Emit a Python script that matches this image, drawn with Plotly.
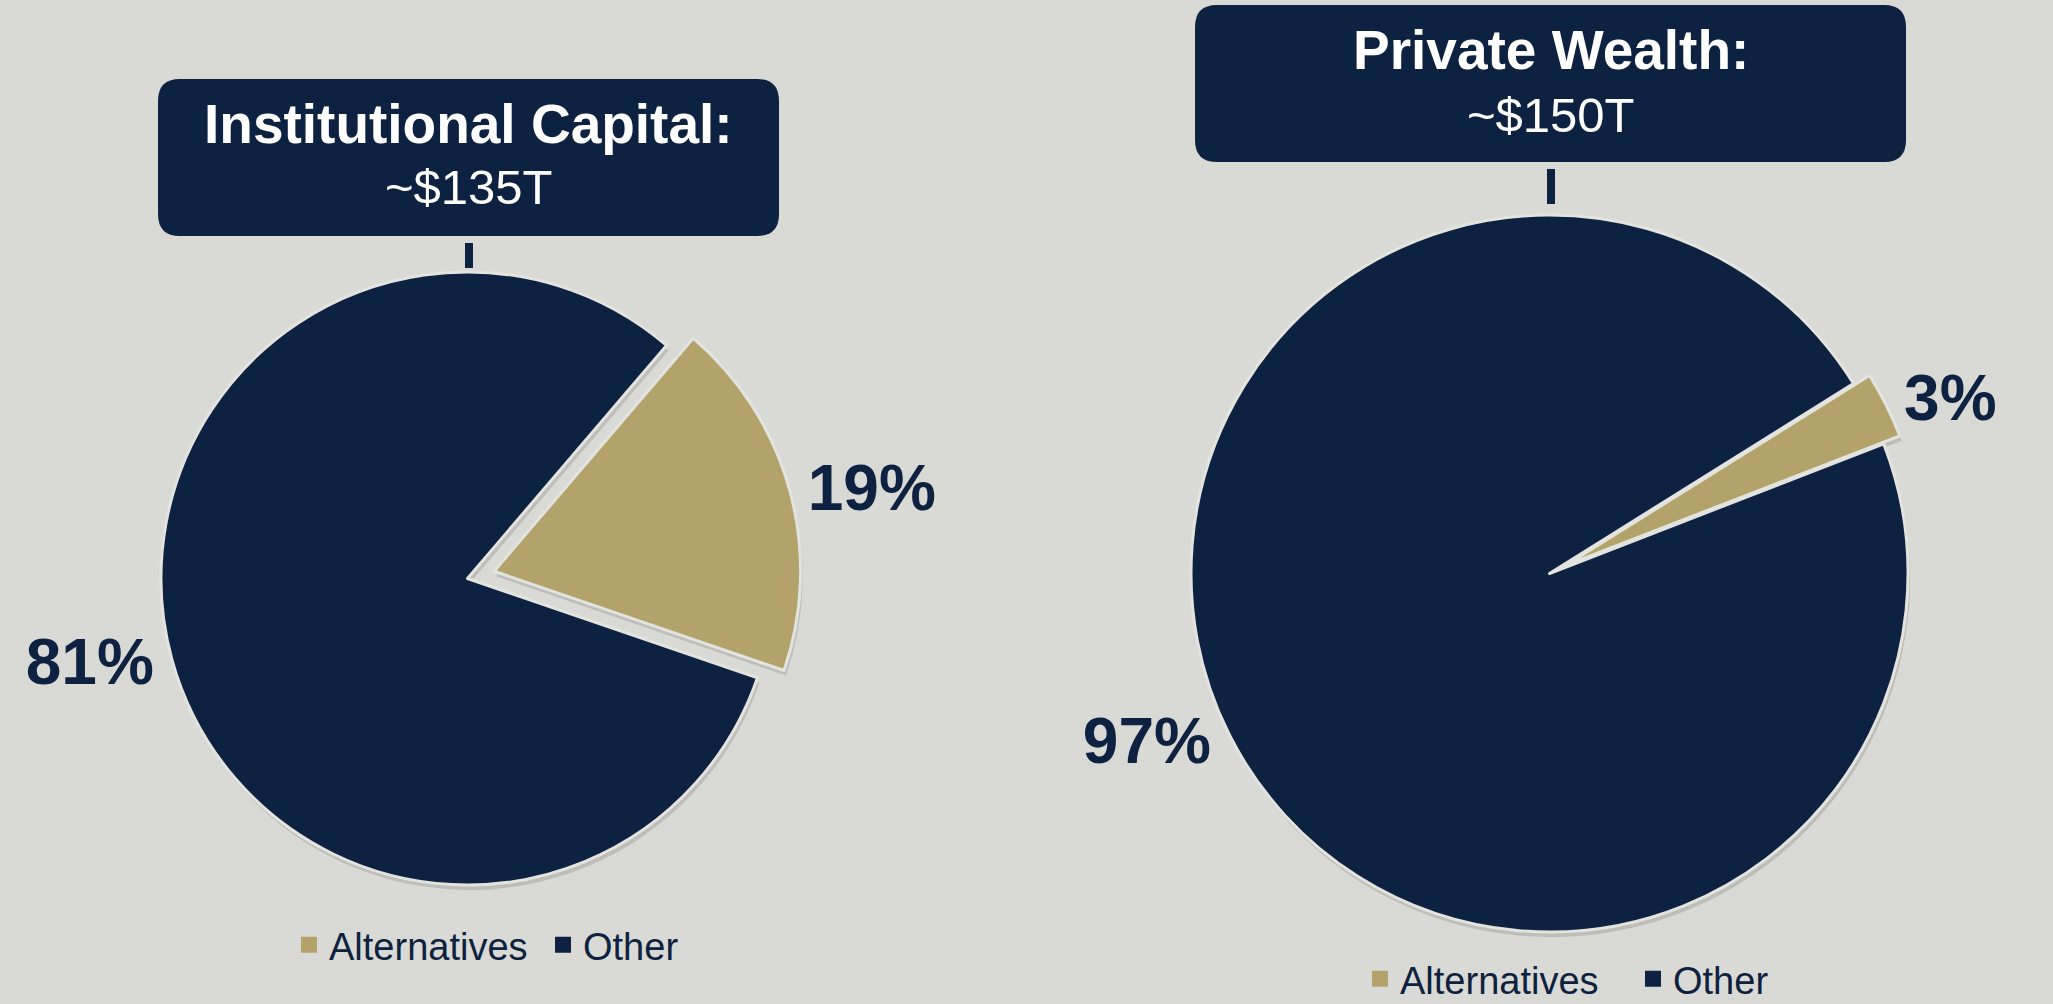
import plotly.graph_objects as go

# ---- data ----
labels = ["Alternatives", "Other"]
inst_values = [19, 81]
pw_values = [3, 97]
inst_title = "Institutional Capital:"
inst_total = "~$135T"
pw_title = "Private Wealth:"
pw_total = "~$150T"

# ---- style ----
W, H = 2053, 1004
BG = "#d9dad5"
NAVY = "#0d2240"
TAN = "#b3a36a"
EDGE = "#e3e3df"
SHADOW = "rgba(90,90,90,0.22)"
FONT = "Liberation Sans, Arial, Helvetica, sans-serif"


def px(x):
    return x / W


def py(y):
    return 1 - y / H


def rounded_rect(x0, y0, x1, y1, r):
    pts = [
        f"M {px(x0 + r)},{py(y0)}",
        f"L {px(x1 - r)},{py(y0)}",
        f"Q {px(x1)},{py(y0)} {px(x1)},{py(y0 + r)}",
        f"L {px(x1)},{py(y1 - r)}",
        f"Q {px(x1)},{py(y1)} {px(x1 - r)},{py(y1)}",
        f"L {px(x0 + r)},{py(y1)}",
        f"Q {px(x0)},{py(y1)} {px(x0)},{py(y1 - r)}",
        f"L {px(x0)},{py(y0 + r)}",
        f"Q {px(x0)},{py(y0)} {px(x0 + r)},{py(y0)}",
        "Z",
    ]
    return " ".join(pts)


def pie_domain(cx, cy, r, pull):
    half = r * (1 + pull)
    return dict(x=[px(cx - half), px(cx + half)], y=[py(cy + half), py(cy - half)])


fig = go.Figure()

inst_pull = 0.09
pw_pull = 0.05
inst_geom = (467.5, 578.5, 306.5)
pw_geom = (1549.5, 573.5, 358.5)


def add_pie(values, rotation, pull, geom):
    cx, cy, r = geom
    # soft drop shadow (same slices, offset slightly down-right)
    fig.add_trace(go.Pie(
        labels=labels, values=values, sort=False, direction="clockwise",
        rotation=rotation, pull=[pull, 0],
        marker=dict(colors=[SHADOW, SHADOW], line=dict(width=0)),
        textinfo="none", domain=pie_domain(cx + 2, cy + 5, r, pull),
        showlegend=False, hoverinfo="skip",
    ))
    fig.add_trace(go.Pie(
        labels=labels, values=values, sort=False, direction="clockwise",
        rotation=rotation, pull=[pull, 0],
        marker=dict(colors=[TAN, NAVY], line=dict(color=EDGE, width=3)),
        textinfo="percent", textposition="outside",
        outsidetextfont=dict(family=FONT, size=64, color=NAVY, weight="bold"),
        domain=pie_domain(cx, cy, r, pull),
        showlegend=False, hoverinfo="label+percent",
    ))


add_pie(inst_values, 40.5, inst_pull, inst_geom)
add_pie(pw_values, 58, pw_pull, pw_geom)

# legend stand-ins (square markers)
for lg in ["legend", "legend2"]:
    for lab, col in zip(labels, [TAN, NAVY]):
        fig.add_trace(go.Scatter(
            x=[None], y=[None], mode="markers", name=lab, legend=lg,
            marker=dict(symbol="square", size=16, color=col, line=dict(width=0)),
            showlegend=True, hoverinfo="skip",
        ))

shapes = [
    dict(type="path", xref="paper", yref="paper", path=rounded_rect(158, 79, 779, 236, 22),
         fillcolor=NAVY, line=dict(width=0), layer="above"),
    dict(type="path", xref="paper", yref="paper", path=rounded_rect(1195, 5, 1906, 162, 22),
         fillcolor=NAVY, line=dict(width=0), layer="above"),
    dict(type="line", xref="paper", yref="paper", x0=px(469), x1=px(469), y0=py(243), y1=py(268),
         line=dict(color=NAVY, width=8)),
    dict(type="line", xref="paper", yref="paper", x0=px(1551), x1=px(1551), y0=py(169), y1=py(204),
         line=dict(color=NAVY, width=8)),
]

annotations = [
    dict(text=f"<b>{inst_title}</b>", x=px(468.5), y=py(124), xref="paper", yref="paper",
         showarrow=False, font=dict(family=FONT, size=55, color="white"), xanchor="center", yanchor="middle"),
    dict(text=inst_total, x=px(468.5), y=py(187), xref="paper", yref="paper",
         showarrow=False, font=dict(family=FONT, size=49, color="white"), xanchor="center", yanchor="middle"),
    dict(text=f"<b>{pw_title}</b>", x=px(1550.5), y=py(50), xref="paper", yref="paper",
         showarrow=False, font=dict(family=FONT, size=55, color="white"), xanchor="center", yanchor="middle"),
    dict(text=pw_total, x=px(1550.5), y=py(115), xref="paper", yref="paper",
         showarrow=False, font=dict(family=FONT, size=49, color="white"), xanchor="center", yanchor="middle"),
]

legend_common = dict(
    orientation="h", font=dict(family=FONT, size=38, color=NAVY),
    bgcolor="rgba(0,0,0,0)", yanchor="middle", xanchor="left",
)

fig.update_layout(
    width=W, height=H, autosize=False,
    paper_bgcolor=BG, plot_bgcolor=BG,
    margin=dict(l=0, r=0, t=0, b=0, autoexpand=False),
    xaxis=dict(visible=False), yaxis=dict(visible=False),
    shapes=shapes, annotations=annotations,
    legend=dict(x=px(289), y=py(945), entrywidth=209, **legend_common),
    legend2=dict(x=px(1360), y=py(979), entrywidth=228, **legend_common),
)

fig.write_html(
    "out.html",
    config={"displayModeBar": False},
    post_script="document.body.style.margin='0';document.body.style.overflow='hidden';",
)
